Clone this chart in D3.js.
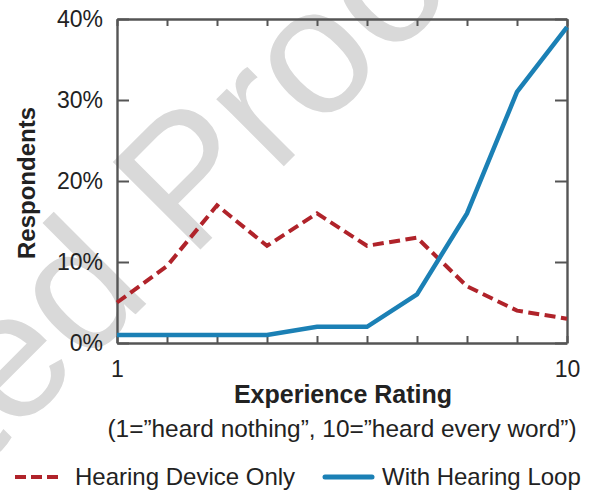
<!DOCTYPE html>
<html>
<head>
<meta charset="utf-8">
<script src="https://cdn.jsdelivr.net/npm/d3@7"></script>
<style>
  body { margin: 0; background: #fff; }
  svg { display: block; font-family: "Liberation Sans", Arial, sans-serif; }
</style>
</head>
<body>
<div id="chart"></div>
<script>
// experience rating 1..10
const ratings = [1, 2, 3, 4, 5, 6, 7, 8, 9, 10];
// % of respondents
const deviceOnly = [5, 9.5, 17, 12, 16, 12, 13, 7, 4, 3];
const withLoop = [1, 1, 1, 1, 2, 2, 6, 16, 31, 39];
const yTicks = [0, 10, 20, 30, 40];
const xLabelled = [1, 10];
const seriesNames = ["Hearing Device Only", "With Hearing Loop"];

const width = 598, height = 491;
const red = "#b0232a", blue = "#1b80b5", axisGrey = "#555";

const svg = d3.select("#chart").append("svg")
  .attr("width", width)
  .attr("height", height);

// proof watermark, sits under everything (cut by the edges like the original)
const wm = svg.append("g")
  .attr("transform", "translate(190,260) rotate(-45)")
  .attr("fill", "#d9d9d9")
  .attr("font-size", 180);
wm.append("text").attr("x", -50).attr("text-anchor", "end").text("Uncorrected");
wm.append("text").attr("x", 0).text("Proof");

const x = d3.scaleLinear().domain([1, 10]).range([117, 567]);
const y = d3.scaleLinear().domain([0, 40]).range([343, 19]);

function styleAxis(g) {
  g.select(".domain").attr("stroke", axisGrey).attr("stroke-width", 2.4);
  g.selectAll(".tick line").attr("stroke", axisGrey).attr("stroke-width", 2);
  g.selectAll(".tick text").attr("fill", "#222").attr("font-size", 23)
    .attr("font-family", "Liberation Sans, Arial, sans-serif");
}

// left + right
svg.append("g")
  .attr("transform", `translate(${x(1)},0)`)
  .call(d3.axisLeft(y).tickValues(yTicks).tickSize(-12).tickSizeOuter(0)
    .tickPadding(14).tickFormat(d => d + "%"))
  .call(styleAxis);

svg.append("g")
  .attr("transform", `translate(${x(10)},0)`)
  .call(d3.axisRight(y).tickValues(yTicks).tickSize(-12).tickSizeOuter(0)
    .tickFormat(""))
  .call(styleAxis);

// bottom + top
svg.append("g")
  .attr("transform", `translate(0,${y(0)})`)
  .call(d3.axisBottom(x).tickValues(ratings).tickSize(-7).tickSizeOuter(0)
    .tickPadding(18).tickFormat(d => xLabelled.includes(d) ? d : ""))
  .call(styleAxis);

svg.append("g")
  .attr("transform", `translate(0,${y(40)})`)
  .call(d3.axisTop(x).tickValues(ratings).tickSize(-7).tickSizeOuter(0)
    .tickFormat(""))
  .call(styleAxis);

const line = d3.line()
  .x((d, i) => x(ratings[i]))
  .y(d => y(d));

svg.append("path")
  .datum(deviceOnly)
  .attr("d", line)
  .attr("fill", "none")
  .attr("stroke", red)
  .attr("stroke-width", 4)
  .attr("stroke-dasharray", "11,5.5");

svg.append("path")
  .datum(withLoop)
  .attr("d", line)
  .attr("fill", "none")
  .attr("stroke", blue)
  .attr("stroke-width", 4.5);

// axis titles
svg.append("text")
  .attr("transform", "translate(35,183) rotate(-90)")
  .attr("text-anchor", "middle")
  .attr("font-size", 24)
  .attr("font-weight", "bold")
  .attr("fill", "#222")
  .text("Respondents");

svg.append("text")
  .attr("x", 343).attr("y", 403)
  .attr("text-anchor", "middle")
  .attr("font-size", 25)
  .attr("font-weight", "bold")
  .attr("fill", "#222")
  .text("Experience Rating");

svg.append("text")
  .attr("x", 342).attr("y", 437)
  .attr("text-anchor", "middle")
  .attr("font-size", 24.4)
  .attr("fill", "#222")
  .text("(1=\u201dheard nothing\u201d, 10=\u201dheard every word\u201d)");

// legend
const legend = [
  { name: seriesNames[0], color: red, dash: "11,5", x1: 15, x2: 58, tx: 75, w: 4 },
  { name: seriesNames[1], color: blue, dash: null, x1: 325, x2: 372, tx: 382, w: 5 }
];
const lg = svg.append("g").selectAll("g").data(legend).join("g");
lg.append("line")
  .attr("x1", d => d.x1).attr("x2", d => d.x2)
  .attr("y1", 477).attr("y2", 477)
  .attr("stroke", d => d.color)
  .attr("stroke-width", d => d.w)
  .attr("stroke-linecap", d => d.dash ? "butt" : "round")
  .attr("stroke-dasharray", d => d.dash);
lg.append("text")
  .attr("x", d => d.tx).attr("y", 485)
  .attr("font-size", 24)
  .attr("fill", "#222")
  .text(d => d.name);
</script>
</body>
</html>
